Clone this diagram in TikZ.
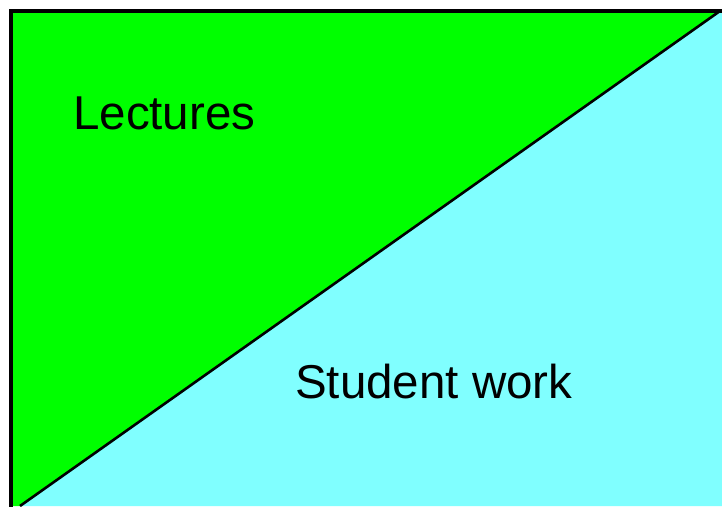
\documentclass[tikz,border=0pt]{standalone}
\usepackage{fontspec}
\setmainfont{Liberation Sans}
\definecolor{lecgreen}{HTML}{00FF00}
\definecolor{stucyan}{HTML}{80FFFF}
\tikzset{
  lbl/.style={font=\fontsize{47.5}{52}\selectfont, text=black, inner sep=0pt, anchor=base west},
  edge/.style={draw=black, line width=3.6pt},
  diag/.style={draw=black, line width=2.6pt}
}
\begin{document}
\begin{tikzpicture}[x=1pt,y=-1pt]
\useasboundingbox (0,0) rectangle (722,506);
\fill[white] (0,0) rectangle (722,506);
\begin{scope}
\clip (0,0) rectangle (722,506);
\fill[lecgreen] (11,11) -- (722,11) -- (20,506) -- (11,506) -- cycle;
\fill[stucyan] (722,11) -- (722,506) -- (20,506) -- cycle;
\draw[diag] (720,11) -- (20,506);
\draw[edge] (11,520) -- (11,11) -- (740,11);
\end{scope}
\node[lbl] (lec) at (73,129) {Lectures};
\node[lbl] (stu) at (295,398) {Student work};
\end{tikzpicture}
\end{document}
